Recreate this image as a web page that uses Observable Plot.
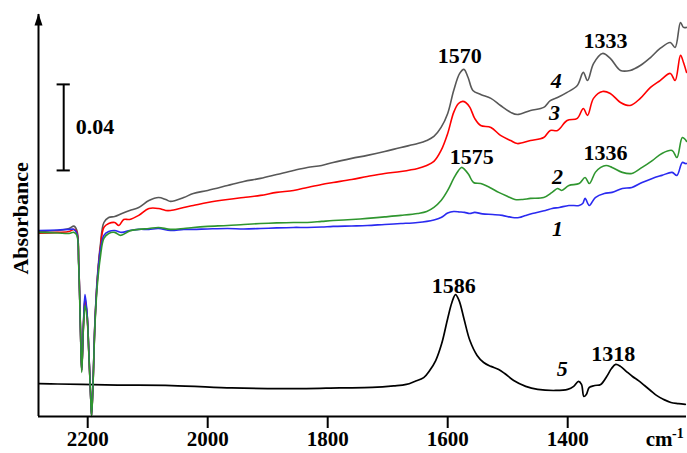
<!DOCTYPE html>
<html><head><meta charset="utf-8">
<script src="https://cdn.jsdelivr.net/npm/d3@7"></script>
<script src="https://cdn.jsdelivr.net/npm/@observablehq/plot@0.6"></script>
<style>body{margin:0;background:#fff}</style>
</head><body><div id="chart"></div>
<script>
// wavenumber (cm-1), absorbance (offset spectra)
const wavenumberTicks = [2200, 2000, 1800, 1600, 1400];

const spectrum1 = [[2281,.0865],[2250,.0867],[2231,.0870],[2223,.0870],[2218,.0851],[2215,.0711],[2212,.0400],[2210,.0214],[2207,.0437],[2204.5,.0567],[2201,.0479],[2198,.0293],[2195,.0088],[2193.5,.0005],[2191,.0167],[2188,.0432],[2184,.0632],[2179,.0772],[2173,.0842],[2165,.0860],[2155,.0865],[2143,.0856],[2130,.0865],[2115,.0870],[2098,.0870],[2082,.0874],[2062,.0865],[2040,.0870],[2024,.0870],[2000,.0872],[1967,.0874],[1940,.0872],[1912,.0874],[1885,.0877],[1857,.0879],[1834,.0879],[1810,.0881],[1791,.0884],[1760,.0886],[1734,.0888],[1705,.0893],[1678,.0897],[1650,.0902],[1623,.0914],[1611,.0925],[1600,.0946],[1590,.0953],[1580,.0951],[1572,.0949],[1563,.0944],[1555,.0949],[1542,.0942],[1525,.0939],[1509,.0935],[1492,.0925],[1481,.0925],[1470,.0935],[1459,.0944],[1437,.0958],[1426,.0967],[1414,.0972],[1398,.0981],[1381,.0981],[1375,.0990],[1371,.1014],[1364,.0981],[1354,.1018],[1339,.1037],[1326,.1042],[1309,.1060],[1293,.1065],[1276,.1088],[1259,.1107],[1243,.1121],[1226,.1135],[1218,.1121],[1209,.1181],[1204,.1176],[1202,.1176]];

const spectrum2 = [[2281,.0856],[2250,.0853],[2231,.0851],[2223,.0856],[2218,.0842],[2215,.0702],[2212,.0391],[2210,.0205],[2207,.0419],[2204.5,.0516],[2201,.0456],[2198,.0284],[2195,.0084],[2193.5,.0000],[2191,.0158],[2188,.0419],[2184,.0609],[2179,.0739],[2173,.0828],[2165,.0851],[2155,.0856],[2145,.0842],[2130,.0863],[2115,.0870],[2098,.0874],[2082,.0879],[2062,.0870],[2040,.0874],[2024,.0879],[2000,.0884],[1967,.0888],[1940,.0893],[1912,.0897],[1885,.0900],[1857,.0902],[1834,.0902],[1810,.0907],[1791,.0911],[1760,.0916],[1734,.0921],[1705,.0928],[1678,.0935],[1650,.0944],[1635,.0953],[1623,.0972],[1611,.1004],[1600,.1051],[1590,.1107],[1582,.1144],[1577,.1158],[1572,.1149],[1565,.1125],[1557,.1088],[1545,.1083],[1530,.1065],[1515,.1042],[1500,.1023],[1488,.1009],[1475,.1009],[1462,.1014],[1440,.1018],[1426,.1042],[1417,.1060],[1410,.1051],[1398,.1074],[1381,.1083],[1371,.1111],[1364,.1083],[1354,.1135],[1345,.1158],[1336,.1167],[1326,.1158],[1309,.1135],[1293,.1130],[1276,.1158],[1259,.1190],[1243,.1223],[1226,.1237],[1218,.1204],[1209,.1297],[1204,.1288],[1202,.1279]];

const spectrum3 = [[2281,.0852],[2250,.0856],[2231,.0860],[2223,.0870],[2218,.0856],[2215,.0716],[2212,.0400],[2210,.0214],[2207,.0428],[2204.5,.0539],[2201,.0470],[2198,.0288],[2195,.0088],[2193.5,.0005],[2191,.0163],[2188,.0428],[2184,.0632],[2179,.0781],[2173,.0879],[2165,.0897],[2155,.0902],[2148,.0888],[2140,.0916],[2130,.0916],[2115,.0935],[2098,.0967],[2082,.0967],[2070,.0958],[2062,.0958],[2040,.0972],[2024,.0981],[2000,.0995],[1967,.1009],[1940,.1018],[1912,.1028],[1885,.1042],[1857,.1051],[1834,.1065],[1810,.1079],[1791,.1088],[1760,.1102],[1734,.1116],[1705,.1130],[1678,.1139],[1650,.1153],[1635,.1167],[1623,.1186],[1611,.1237],[1600,.1316],[1590,.1414],[1582,.1455],[1575,.1465],[1570,.1460],[1563,.1437],[1555,.1386],[1545,.1353],[1528,.1344],[1512,.1307],[1495,.1283],[1484,.1269],[1462,.1283],[1440,.1297],[1429,.1330],[1417,.1330],[1401,.1376],[1384,.1386],[1374,.1432],[1367,.1400],[1357,.1479],[1342,.1511],[1329,.1502],[1312,.1460],[1296,.1446],[1279,.1479],[1262,.1530],[1246,.1562],[1229,.1595],[1221,.1562],[1212,.1679],[1207,.1646],[1202,.1600]];

const spectrum4 = [[2281,.0860],[2250,.0865],[2231,.0874],[2223,.0885],[2218,.0865],[2215,.0716],[2212,.0400],[2210,.0214],[2207,.0432],[2204.5,.0549],[2201,.0474],[2198,.0293],[2195,.0088],[2193.5,.0005],[2191,.0167],[2188,.0437],[2184,.0646],[2179,.0795],[2173,.0902],[2165,.0925],[2155,.0930],[2143,.0944],[2130,.0958],[2115,.0972],[2098,.1004],[2082,.1018],[2070,.1009],[2062,.1000],[2040,.1018],[2024,.1037],[2000,.1051],[1967,.1074],[1940,.1093],[1912,.1107],[1885,.1125],[1857,.1144],[1834,.1158],[1810,.1167],[1791,.1181],[1760,.1200],[1734,.1214],[1705,.1232],[1678,.1251],[1650,.1269],[1635,.1283],[1623,.1302],[1611,.1344],[1600,.1409],[1590,.1516],[1580,.1595],[1573,.1614],[1566,.1576],[1558,.1516],[1545,.1497],[1528,.1479],[1512,.1446],[1495,.1414],[1484,.1404],[1462,.1423],[1440,.1437],[1429,.1469],[1417,.1483],[1401,.1507],[1384,.1539],[1374,.1600],[1367,.1562],[1357,.1641],[1342,.1688],[1329,.1665],[1312,.1609],[1296,.1609],[1279,.1632],[1262,.1669],[1246,.1711],[1229,.1739],[1221,.1716],[1212,.1832],[1207,.1809],[1202,.1809]];

const spectrum5 = [[2281,.0153],[2250,.0151],[2210,.0149],[2150,.0146],[2060,.0144],[1960,.0133],[1900,.0130],[1836,.0130],[1780,.0133],[1726,.0135],[1690,.0142],[1669,.0149],[1655,.0163],[1640,.0181],[1630,.0214],[1620,.0260],[1610,.0339],[1600,.0456],[1593,.0530],[1587,.0567],[1581,.0539],[1573,.0456],[1563,.0353],[1551,.0284],[1540,.0251],[1528,.0233],[1515,.0219],[1505,.0200],[1490,.0167],[1470,.0140],[1450,.0126],[1420,.0121],[1400,.0126],[1390,.0140],[1382,.0163],[1377,.0149],[1373,.0093],[1369,.0102],[1364,.0135],[1355,.0144],[1345,.0149],[1335,.0186],[1327,.0223],[1320,.0242],[1312,.0233],[1302,.0209],[1292,.0186],[1282,.0167],[1272,.0144],[1262,.0121],[1252,.0098],[1240,.0079],[1228,.0065],[1215,.0060],[1204,.0056]];

// peak annotations
const peakText = ["1570", "1333", "1575", "1336", "1586", "1318"];
const peakX = [1580, 1337, 1560, 1337, 1590, 1324];
const peakY = [0.1674, 0.1744, 0.1209, 0.1223, 0.0609, 0.0293];

// spectrum numbers
const curveText = ["4", "3", "2", "1", "5"];
const curveX = [1419, 1422, 1417, 1417, 1409];
const curveY = [0.1558, 0.1409, 0.1116, 0.0874, 0.0223];

// scale bar 0.04 absorbance
const scaleBarX = 2240;
const scaleBarLow = 0.1144;
const scaleBarSize = 0.04;

const xDomain = [2282, 1202];
const yTop = 0.1869;

const colors = {s1: "#2a2af0", s2: "#2f962f", s3: "#ff0000", s4: "#585858", s5: "#000000"};

const arrowHead = {draw(ctx) { ctx.moveTo(0, -1); ctx.lineTo(-4, 11); ctx.lineTo(4, 11); ctx.closePath(); }};

const lineOpts = (c, w) => ({x: d => d[0], y: d => d[1], stroke: c, strokeWidth: w, curve: "catmull-rom"});

const chart = Plot.plot({
  width: 687, height: 453,
  marginLeft: 38, marginRight: 1, marginTop: 14, marginBottom: 37,
  x: {domain: xDomain, axis: null},
  y: {domain: [0, yTop], axis: null},
  style: "font-family: 'Liberation Serif', 'Times New Roman', serif; font-weight: bold; font-size: 22px; background: white; overflow: visible;",
  marks: [
    Plot.line(spectrum5, lineOpts(colors.s5, 1.7)),
    Plot.line(spectrum4, lineOpts(colors.s4, 1.6)),
    Plot.line(spectrum3, lineOpts(colors.s3, 1.6)),
    Plot.line(spectrum1, lineOpts(colors.s1, 1.6)),
    Plot.line(spectrum2, lineOpts(colors.s2, 1.6)),
    Plot.ruleY([0], {stroke: "#000", strokeWidth: 2}),
    Plot.ruleX([xDomain[0]], {y1: 0, y2: yTop, stroke: "#000", strokeWidth: 2}),
    Plot.dot([[xDomain[0], yTop]], {x: d => d[0], y: d => d[1], symbol: arrowHead, fill: "#000", stroke: "none"}),
    Plot.axisX(wavenumberTicks, {tickSize: 12, tickPadding: 3, strokeWidth: 2, fontSize: 21, fontWeight: "bold", tickFormat: d => String(d)}),
    Plot.text(["cm"], {x: 1270, y: -0.0107, textAnchor: "start", fontSize: 21, fontWeight: "bold"}),
    Plot.text(["-1"], {x: 1226, y: -0.0077, textAnchor: "start", fontSize: 14, fontWeight: "bold"}),
    Plot.text(["Absorbance"], {x: 2312, y: 0.0921, rotate: -90, fontSize: 22, fontWeight: "bold"}),
    Plot.ruleX([scaleBarX], {y1: scaleBarLow, y2: scaleBarLow + scaleBarSize, stroke: "#000", strokeWidth: 2}),
    Plot.ruleY([scaleBarLow, scaleBarLow + scaleBarSize], {x1: 2251, x2: 2229, stroke: "#000", strokeWidth: 2}),
    Plot.text(["0.04"], {x: 2220, y: scaleBarLow + scaleBarSize / 2, textAnchor: "start", fontSize: 22, fontWeight: "bold"}),
    Plot.text(peakText, {x: (d, i) => peakX[i], y: (d, i) => peakY[i], text: d => d, fontSize: 22, fontWeight: "bold"}),
    Plot.text(curveText, {x: (d, i) => curveX[i], y: (d, i) => curveY[i], text: d => d, fontSize: 22, fontWeight: "bold", fontStyle: "italic"})
  ]
});
document.getElementById("chart").appendChild(chart);
</script>
</body></html>
